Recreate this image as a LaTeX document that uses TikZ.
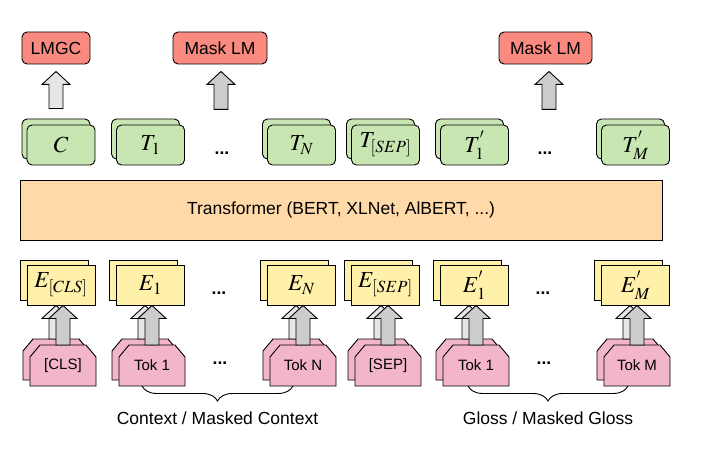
\documentclass[tikz,border=0pt]{standalone}
\usepackage{mathptmx}
\usepackage{fontspec}
\setmainfont{Liberation Sans}
\usetikzlibrary{calc,decorations.pathreplacing}

\definecolor{headred}{RGB}{250,138,128}
\definecolor{outgreen}{RGB}{200,230,178}
\definecolor{embyellow}{RGB}{255,241,170}
\definecolor{tokpink}{RGB}{243,181,200}
\definecolor{trfpeach}{RGB}{255,218,168}
\definecolor{arrlight}{RGB}{230,230,230}
\definecolor{arrdark}{RGB}{204,204,204}

\pgfdeclarelayer{background}
\pgfsetlayers{background,main}

\tikzset{
  box/.style={draw, line width=0.9pt, inner sep=0pt},
  headbox/.style={box, fill=headred, rounded corners=5pt, minimum height=32pt,
                  font=\fontsize{17.5}{21}\selectfont},
  outbox/.style={box, fill=outgreen, rounded corners=5pt, minimum width=68pt,
                 minimum height=40pt, font=\fontsize{23}{27}\selectfont},
  embbox/.style={box, fill=embyellow, minimum width=68pt, minimum height=40pt,
                 font=\fontsize{23}{27}\selectfont},
  tokbox/.style={inner sep=0pt, outer sep=0pt, minimum width=66pt,
                 minimum height=41pt, font=\fontsize{15}{18}\selectfont},
  tokline/.style={draw, line width=0.9pt, fill=tokpink},
  dotsnode/.style={inner sep=0pt, font=\bfseries\fontsize{17.5}{21}\selectfont},
  bracelabel/.style={inner sep=0pt, font=\fontsize{17.5}{21}\selectfont},
}

% block arrow pointing up, from #2 (bottom) to #3 (tip)
\newcommand{\fatarrow}[3]{%
  \path[draw, line width=0.9pt, fill=#1] let \p1=#2, \p2=#3 in
    (\x1-7pt,\y1) -- (\x1-7pt,\y2-13pt) -- (\x1-14pt,\y2-13pt) -- (\x1,\y2)
    -- (\x1+14pt,\y2-13pt) -- (\x1+7pt,\y2-13pt) -- (\x1+7pt,\y1) -- cycle;}

% token outline with cut top corners, behind the node text
\newcommand{\tokshape}[1]{%
  \begin{pgfonlayer}{background}
  \path[tokline] (#1.south west) -- ($(#1.north west)+(0,12)$)
    -- ($(#1.north west)+(10,0)$) -- ($(#1.north east)+(-10,0)$)
    -- ($(#1.north east)+(0,12)$) -- (#1.south east) -- cycle;
  \end{pgfonlayer}}

\begin{document}
\begin{tikzpicture}[x=1pt,y=-1pt]
    \useasboundingbox (0,0) rectangle (715,449);

    % heads
    \node[headbox, minimum width=68pt] (lmgc) at (56,48) {LMGC};
    \node[headbox, minimum width=94pt] (mlm1) at (220,48) {Mask LM};
    \node[headbox, minimum width=93pt] (mlm2) at (545.5,48) {Mask LM};

    % outputs
    \node[outbox] (cb) at (56,139) {};
    \node[outbox] (c) at (61,145) {$C$};
    \node[outbox] (t1b) at (145.5,139) {};
    \node[outbox] (t1) at (150.5,145) {$T_1$};
    \node[outbox] (tnb) at (296.5,139) {};
    \node[outbox] (tn) at (301.5,145) {$T_N$};
    \node[outbox] (tsepb) at (380.5,139) {};
    \node[outbox] (tsep) at (385.5,145) {$T_{[SEP]}$};
    \node[outbox] (tg1b) at (469.5,139) {};
    \node[outbox] (tg1) at (474.5,145) {$T^{'}_{1}$};
    \node[outbox] (tgmb) at (630.5,139) {};
    \node[outbox] (tgm) at (635.5,145) {$T^{'}_{M}$};
    \node[dotsnode] (dotsta) at (222,153) {...};
    \node[dotsnode] (dotstb) at (545,153) {...};

    % transformer
    \node[box, fill=trfpeach, minimum width=642pt, minimum height=60pt,
          font=\fontsize{17.5}{21}\selectfont] (trf) at (341,210)
          {Transformer (BERT, XLNet, AlBERT, ...)};

    % embeddings
    \node[embbox] (eclsb) at (54,280) {};
    \node[embbox] (ecls) at (61,285) {$E_{[CLS]}$};
    \node[embbox] (e1b) at (143.5,280) {};
    \node[embbox] (e1) at (150.5,285) {$E_1$};
    \node[embbox] (enb) at (294.5,280) {};
    \node[embbox] (en) at (301.5,285) {$E_N$};
    \node[embbox] (esepb) at (378.5,280) {};
    \node[embbox] (esep) at (385.5,285) {$E_{[SEP]}$};
    \node[embbox] (eg1b) at (467.5,280) {};
    \node[embbox] (eg1) at (474.5,285) {$E^{'}_{1}$};
    \node[embbox] (egmb) at (628.5,280) {};
    \node[embbox] (egm) at (635.5,285) {$E^{'}_{M}$};
    \node[dotsnode] (dotsea) at (219,293) {...};
    \node[dotsnode] (dotseb) at (543,293) {...};

    % tokens
    \node[tokbox] (clsb) at (56,359.5) {};
    \node[tokbox] (cls) at (63,365.5) {[CLS]};
    \node[tokbox] (tok1b) at (145,359.5) {};
    \node[tokbox] (tok1) at (152,365.5) {Tok 1};
    \node[tokbox] (toknb) at (296,359.5) {};
    \node[tokbox] (tokn) at (303,365.5) {Tok N};
    \node[tokbox] (sepb) at (381,359.5) {};
    \node[tokbox] (sep) at (388,365.5) {[SEP]};
    \node[tokbox] (gtok1b) at (469,359.5) {};
    \node[tokbox] (gtok1) at (476,365.5) {Tok 1};
    \node[tokbox] (gtokmb) at (630,359.5) {};
    \node[tokbox] (gtokm) at (637,365.5) {Tok M};
    \tokshape{clsb}   \tokshape{cls}
    \tokshape{tok1b}  \tokshape{tok1}
    \tokshape{toknb}  \tokshape{tokn}
    \tokshape{sepb}   \tokshape{sep}
    \tokshape{gtok1b} \tokshape{gtok1}
    \tokshape{gtokmb} \tokshape{gtokm}
    \node[dotsnode] (dotspa) at (220,363) {...};
    \node[dotsnode] (dotspb) at (544,363) {...};

    % arrows up to the heads
    \fatarrow{arrlight}{($(cb.north)+(0,-10)$)}{($(lmgc.south)+(0,7)$)}
    \fatarrow{arrdark}{($(mlm1.south)+(1,45)$)}{($(mlm1.south)+(0,7)$)}
    \fatarrow{arrdark}{($(mlm2.south)+(3.5,45)$)}{($(mlm2.south)+(0,7)$)}

    % arrows from tokens to embeddings
    \fatarrow{arrlight}{(clsb.north)}{(ecls.south)}
    \fatarrow{arrdark}{(cls.north)}{(ecls.south)}
    \fatarrow{arrlight}{(tok1b.north)}{(e1.south)}
    \fatarrow{arrdark}{(tok1.north)}{(e1.south)}
    \fatarrow{arrlight}{(toknb.north)}{(en.south)}
    \fatarrow{arrdark}{(tokn.north)}{(en.south)}
    \fatarrow{arrlight}{(sepb.north)}{(esep.south)}
    \fatarrow{arrdark}{(sep.north)}{(esep.south)}
    \fatarrow{arrlight}{(gtok1b.north)}{(eg1.south)}
    \fatarrow{arrdark}{(gtok1.north)}{(eg1.south)}
    \fatarrow{arrlight}{(gtokmb.north)}{(egm.south)}
    \fatarrow{arrdark}{(gtokm.north)}{(egm.south)}

    % braces
    \draw[line width=0.9pt, decorate, decoration={brace, mirror, amplitude=15pt}]
        ($(tok1.south)+(-10,0)$) -- ($(tokn.south)+(-10,0)$)
        node[bracelabel, midway, yshift=-32pt] (ctxlabel) {Context / Masked Context};
    \draw[line width=0.9pt, decorate, decoration={brace, mirror, amplitude=15pt}]
        ($(gtok1.south)+(-8,0)$) -- ($(gtokm.south)+(-9,0)$)
        node[bracelabel, midway, yshift=-32pt] (glosslabel) {Gloss / Masked Gloss};
\end{tikzpicture}
\end{document}
